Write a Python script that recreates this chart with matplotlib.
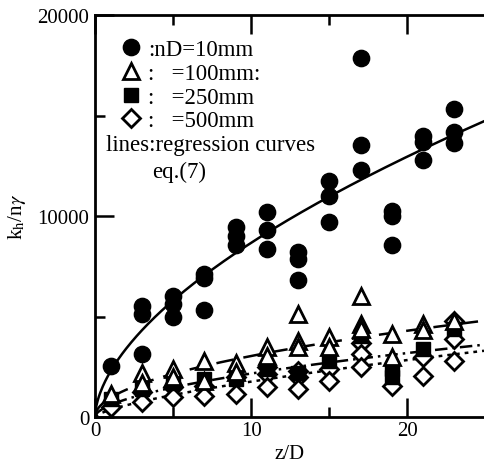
import matplotlib
matplotlib.use("Agg")
import matplotlib.pyplot as plt
import numpy as np
from matplotlib.lines import Line2D

plt.rcParams['font.family'] = ['Liberation Serif', 'DejaVu Serif']
plt.rcParams['mathtext.fontset'] = 'stix'

# ---- data ----
x10 = [1, 3, 3, 3, 5, 5, 5, 7, 7, 7, 9, 9, 9, 11, 11, 11, 13, 13, 13,
       15, 15, 15, 17, 17, 17, 19, 19, 19, 21, 21, 21, 23, 23, 23]
y10 = [2550, 5500, 5100, 3150, 6000, 5600, 5000, 7100, 6900, 5300,
       9450, 9000, 8550, 10200, 9300, 8350, 8200, 7850, 6800,
       11750, 11000, 9700, 17850, 13550, 12300, 10250, 10000, 8550,
       14000, 13700, 12800, 15300, 14200, 13650]

x100 = [1, 3, 3, 5, 5, 7, 7, 9, 9, 11, 11, 13, 13, 13, 15, 15,
        17, 17, 17, 19, 19, 21, 21, 23]
y100 = [1150, 2200, 1700, 2400, 2000, 2800, 1800, 2700, 2250, 3500, 3050,
        5100, 3800, 3500, 4000, 3500, 6000, 4650, 4400, 4150, 3000,
        4650, 4350, 4800]

x250 = [1, 3, 5, 7, 9, 11, 13, 15, 17, 19, 19, 21, 23]
y250 = [900, 1400, 1700, 1900, 1900, 2400, 2200, 2800, 4050, 2400, 2000,
        3400, 4400]

x500 = [1, 3, 3, 5, 5, 7, 7, 9, 9, 11, 11, 11, 13, 13, 13, 15, 15,
        17, 17, 17, 19, 21, 21, 23, 23, 23]
y500 = [500, 1250, 750, 1500, 1000, 1550, 1050, 2000, 1150, 2500, 2150,
        1500, 2300, 2000, 1400, 2400, 1800, 3700, 3150, 2500, 1550,
        3000, 2050, 4800, 3900, 2800]

# regression curves eq.(7): k = a * (z/D)^b  (coefficients)
reg_a = [2280, 960, 600, 363]
reg_b = [0.58, 0.50, 0.557, 0.686]

legend_labels = [":nD=10mm", ":   =100mm:", ":   =250mm", ":   =500mm"]
xtick_vals = [0, 10, 20]
ytick_vals = [0, 10000, 20000]

# ---- figure ----
fig = plt.figure(figsize=(4.84, 4.64), dpi=100)
ax = fig.add_axes([95/484, 1-418/464, 389/484, 402/464])
ax.set_xlim(0, 24.9)
ax.set_ylim(0, 20000)

ms = 11.5
mew = 2.0
ax.plot(x500, y500, linestyle='none', marker='D', ms=ms*0.78, mfc='white',
        mec='black', mew=mew, zorder=3)
ax.plot(x250, y250, linestyle='none', marker='s', ms=ms*0.85, mfc='black',
        mec='black', zorder=3)
ax.plot(x100, y100, linestyle='none', marker='^', ms=ms*0.95, mfc='white',
        mec='black', mew=mew, zorder=4)
ax.plot(x10, y10, linestyle='none', marker='o', ms=ms*1.02, mfc='black',
        mec='black', zorder=4)

xx = np.linspace(0, 24.9, 300)
styles = ['-', (0, (7, 4)), (0, (5, 2, 1, 2)), (0, (1.5, 2))]
for a, b, ls in zip(reg_a, reg_b, styles):
    ax.plot(xx, a * xx ** b, color='black', lw=1.8, linestyle=ls, zorder=2)

# ticks
ax.set_xticks(xtick_vals)
ax.set_xticks([5, 15], minor=True)
ax.set_yticks(ytick_vals)
ax.set_yticks([5000, 15000], minor=True)
ax.set_xticklabels([str(v) for v in xtick_vals])
ax.set_yticklabels([str(v) for v in ytick_vals])
ax.tick_params(which='major', direction='in', length=14, width=1.8,
               labelsize=15, top=True)
ax.tick_params(which='minor', direction='in', length=7, width=1.8, top=True)
ax.tick_params(axis='x', which='major', pad=3)
ax.tick_params(axis='y', which='major', pad=4)
for s in ['left', 'bottom', 'top']:
    ax.spines[s].set_linewidth(2.0)
ax.spines['right'].set_visible(False)

ax.set_xlabel('z/D', fontsize=15, labelpad=3)
ax.set_ylabel(r'k$_{\rm h}$/n$\gamma$', fontsize=15, labelpad=7)

# legend
handles = [
    Line2D([], [], linestyle='none', marker='o', ms=ms*1.02, mfc='black', mec='black'),
    Line2D([], [], linestyle='none', marker='^', ms=ms*0.95, mfc='white', mec='black', mew=mew),
    Line2D([], [], linestyle='none', marker='s', ms=ms*0.85, mfc='black', mec='black'),
    Line2D([], [], linestyle='none', marker='D', ms=ms*0.78, mfc='white', mec='black', mew=mew),
]
leg = ax.legend(handles, legend_labels, loc='upper left', frameon=False,
                fontsize=16.5, handlelength=1.0, handletextpad=0.25,
                labelspacing=0.11, borderaxespad=0.0,
                bbox_to_anchor=(0.04, 0.962))
ax.text(0.027, 0.678, 'lines:regression curves', transform=ax.transAxes,
        fontsize=16.5, ha='left', va='center')
ax.text(0.215, 0.612, 'eq.(7)', transform=ax.transAxes,
        fontsize=16.5, ha='center', va='center')

fig.savefig('out.png', dpi=100)
